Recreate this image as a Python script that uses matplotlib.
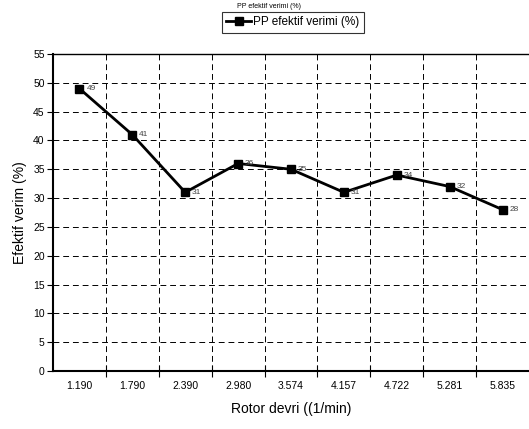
import matplotlib
matplotlib.use("Agg")
import matplotlib.pyplot as plt
import numpy as np

plt.rcParams['font.family'] = ['Liberation Sans', 'DejaVu Sans']

# data
rotor_speeds = ["1.190", "1.790", "2.390", "2.980", "3.574", "4.157", "4.722", "5.281", "5.835"]
efficiency = [49, 41, 31, 36, 35, 31, 34, 32, 28]
series_name = "PP efektif verimi (%)"

fig = plt.figure(figsize=(5.29, 4.29), dpi=100)
ax = fig.add_axes([53 / 529, 1 - 371 / 429, 1 - 53 / 529, (371 - 54) / 429])

x = np.arange(len(rotor_speeds))
line, = ax.plot(x, efficiency, color="black", lw=2.0, marker="s", ms=5.5,
                markerfacecolor="black", markeredgecolor="black", label=series_name)

# value labels right of each marker
for xi, v in zip(x, efficiency):
    ax.annotate(str(v), (xi, v), xytext=(5, 0), textcoords="offset points",
                fontsize=6, color="#444444", va="center", ha="left")

ax.set_xlim(-0.5, len(rotor_speeds) - 0.5)
ax.set_ylim(0, 55)
ax.set_yticks(np.arange(0, 56, 5))

ax.set_xticks(x)
ax.set_xticklabels(rotor_speeds, fontsize=7.5)
ax.set_xticks(np.arange(0.5, len(rotor_speeds) - 0.5, 1), minor=True)
ax.tick_params(axis="x", which="major", length=0, pad=7)
ax.tick_params(axis="x", which="minor", direction="inout", length=8, width=0.8)
ax.tick_params(axis="y", which="major", direction="out", length=4, width=0.8,
               labelsize=7.5, pad=2)

ax.grid(True, axis="y", which="major", color="black", ls=(0, (6, 4)), lw=0.7)
ax.grid(True, axis="x", which="minor", color="black", ls=(0, (6, 4)), lw=0.7)
ax.set_axisbelow(True)

for side in ["left", "bottom"]:
    ax.spines[side].set_linewidth(1.5)
ax.spines["top"].set_linewidth(1.0)
ax.spines["right"].set_visible(False)

ax.set_xlabel("Rotor devri ((1/min)", fontsize=10, labelpad=8)
ax.set_ylabel("Efektif verim (%)", fontsize=10, labelpad=4)

fig.text(269 / 529, 1 - 7 / 429, series_name, fontsize=5, ha="center", va="center")
leg = fig.legend(handles=[line], loc="center", bbox_to_anchor=(293 / 529, 1 - 22.5 / 429),
                 fontsize=8.5, frameon=True, fancybox=False, handlelength=2.1,
                 borderpad=0.35, handletextpad=0.2, borderaxespad=0)
leg.get_frame().set_edgecolor("black")
leg.get_frame().set_linewidth(0.8)

fig.savefig("out.png", dpi=100)
